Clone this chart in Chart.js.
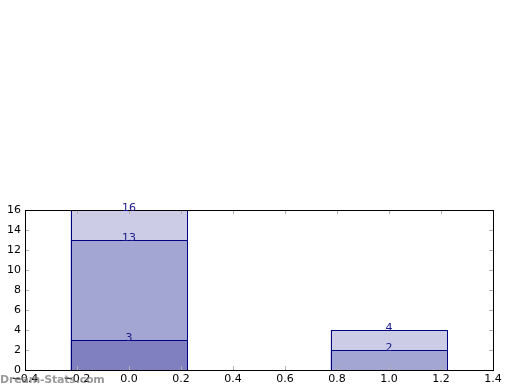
<!DOCTYPE html>
<html>
<head>
<meta charset="utf-8">
<script src="https://cdn.jsdelivr.net/npm/chart.js@4"></script>
<style>
html,body{margin:0;padding:0;background:#fff;}
#wrap{position:relative;width:520px;height:390px;}
#wm{position:absolute;left:0;top:373px;font:bold 11px "DejaVu Sans",sans-serif;color:rgba(120,120,120,0.75);white-space:nowrap;letter-spacing:-0.2px;}
</style>
</head>
<body>
<div id="wrap"><canvas id="c" width="520" height="390"></canvas><div id="wm">Dream-Stats.com</div></div>
<script>
const positions = [0, 1];
const darkValues = [3, null];
const midValues = [10, 2];
const lightValues = [3, 2];
const xTicks = [-0.4, -0.2, 0.0, 0.2, 0.4, 0.6, 0.8, 1.0, 1.2, 1.4];
const yTicks = [0, 2, 4, 6, 8, 10, 12, 14, 16];
const barWidth = 0.45;   // in data units
const tickStep = 0.2;

const FONT = '"DejaVu Sans", sans-serif';
const edge = '#000080';
function pts(vals){ return positions.map((p,i)=>({x:p, y:vals[i]})); }

const innerTicks = {
  id:'innerTicks',
  afterDatasetsDraw(chart){
    const {ctx, chartArea:a, scales:{x,y}} = chart;
    ctx.save();
    // bar outlines, snapped to the pixel grid
    ctx.strokeStyle = edge;
    ctx.lineWidth = 1;
    chart.data.datasets.forEach((ds, di)=>{
      chart.getDatasetMeta(di).data.forEach((el, i)=>{
        if (ds.data[i].y == null) return;
        const p = el.getProps(['x','y','base','width'], true);
        const l = Math.round(p.x - p.width/2), r = Math.round(p.x + p.width/2);
        const t = Math.round(Math.min(p.y, p.base)), b = Math.round(Math.max(p.y, p.base));
        ctx.strokeRect(l+0.5, t+0.5, r-l, b-t);
      });
    });
    ctx.strokeStyle = '#b0b0b0';
    ctx.beginPath();
    xTicks.forEach(v=>{
      const px = Math.round(x.getPixelForValue(v))+0.5;
      ctx.moveTo(px,a.bottom); ctx.lineTo(px,a.bottom-4);
      ctx.moveTo(px,a.top); ctx.lineTo(px,a.top+4);
    });
    yTicks.forEach(v=>{
      const py = Math.round(y.getPixelForValue(v))+0.5;
      ctx.moveTo(a.left,py); ctx.lineTo(a.left+4,py);
      ctx.moveTo(a.right,py); ctx.lineTo(a.right-4,py);
    });
    ctx.stroke();
    ctx.strokeStyle = '#000';
    ctx.strokeRect(Math.round(a.left)+0.5, Math.round(a.top)+0.5, Math.round(a.right-a.left), Math.round(a.bottom-a.top));
    ctx.fillStyle = '#1a1a8c';
    ctx.font = '11px ' + FONT;
    ctx.textAlign = 'center';
    ctx.textBaseline = 'alphabetic';
    positions.forEach((p,i)=>{
      let cum = 0;
      [darkValues, midValues, lightValues].forEach(arr=>{
        const v = arr[i];
        if (v == null || v === 0) return;
        cum += v;
        ctx.fillText(String(cum), x.getPixelForValue(p), y.getPixelForValue(cum)+1);
      });
    });
    ctx.restore();
  }
};

new Chart(document.getElementById('c'), {
  type:'bar',
  data:{
    datasets:[
      {data:pts(darkValues), backgroundColor:'#8080c0', borderWidth:0},
      {data:pts(midValues), backgroundColor:'#a3a5d2', borderWidth:0},
      {data:pts(lightValues), backgroundColor:'#cccce6', borderWidth:0}
    ]
  },
  options:{
    responsive:false,
    animation:false,
    devicePixelRatio:1,
    layout:{padding:{left:0, top:210, right:27, bottom:0}},
    plugins:{legend:{display:false}, tooltip:{enabled:false}},
    datasets:{bar:{barPercentage:barWidth/tickStep, categoryPercentage:1}},
    scales:{
      x:{
        type:'linear', stacked:true, min:-0.4, max:1.4, offset:false,
        afterBuildTicks(s){ s.ticks = xTicks.map(v=>({value:v})); },
        afterFit(s){ s.height = 20; },
        grid:{display:false, drawTicks:false, offset:false},
        border:{display:false},
        ticks:{padding:3, color:'#000', font:{size:11, family:FONT}, maxRotation:0, autoSkip:false,
          callback:v=>Number(v).toFixed(1).replace('-', '\u2212')}
      },
      y:{
        stacked:true, min:0, max:16,
        afterBuildTicks(s){ s.ticks = yTicks.map(v=>({value:v})); },
        afterFit(s){ s.width = 25; },
        grid:{display:false, drawTicks:false},
        border:{display:false},
        ticks:{padding:4, color:'#000', font:{size:11, family:FONT}, autoSkip:false,
          callback:v=>String(v)}
      }
    }
  },
  plugins:[innerTicks]
});
</script>
</body>
</html>
